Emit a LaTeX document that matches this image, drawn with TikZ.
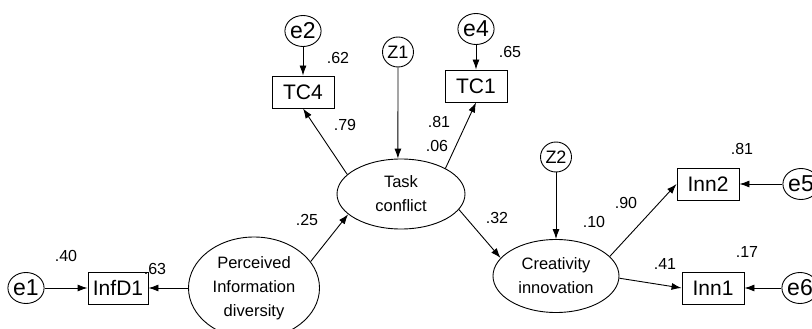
\documentclass[tikz,border=0pt]{standalone}
\usepackage{fontspec}
\setmainfont{Liberation Sans}
\usetikzlibrary{shapes.geometric,arrows.meta}
\begin{document}
\begin{tikzpicture}[x=1pt,y=-1pt,
  latent/.style={draw, ellipse, line width=0.9pt, minimum width=128pt, minimum height=70pt,
    inner sep=0pt, align=center, font=\fontsize{16.5}{24}\selectfont},
  observed/.style={draw, rectangle, line width=0.9pt, minimum width=62pt, minimum height=32pt,
    inner sep=0pt, font=\fontsize{21}{24}\selectfont},
  errterm/.style={draw, ellipse, line width=0.9pt, minimum width=34pt, minimum height=31pt,
    inner sep=0pt, font=\fontsize{23}{24}\selectfont},
  disturb/.style={draw, ellipse, line width=0.9pt, minimum width=31pt, minimum height=30pt,
    inner sep=0pt, font=\fontsize{18}{20}\selectfont},
  coef/.style={inner sep=0pt, font=\fontsize{16}{18}\selectfont},
  link/.style={line width=0.9pt, -{Latex[length=10pt,width=7pt]}},
]
\useasboundingbox (0,0) rectangle (812,329);

% latent constructs
\node[latent, minimum width=131pt, minimum height=102pt] (PID) at (254,288) {Perceived\\Information\\diversity};
\node[latent] (TaskC) at (401,194) {Task\\conflict};
\node[latent, minimum width=126pt, minimum height=73pt] (CrInn) at (556,276) {Creativity\\innovation};

% indicators
\node[observed, minimum width=60pt] (InfD1) at (118,288) {InfD1};
\node[observed] (TC4) at (303,92) {TC4};
\node[observed] (TC1) at (476,86) {TC1};
\node[observed] (Inn2) at (708,184) {Inn2};
\node[observed] (Inn1) at (713,288) {Inn1};

% error terms and disturbances
\node[errterm] (e1) at (26,288) {e1};
\node[errterm] (e2) at (303,31) {e2};
\node[errterm] (e4) at (476,29) {e4};
\node[errterm] (e5) at (801,184) {e5};
\node[errterm] (e6) at (800,288) {e6};
\node[disturb] (Z1) at (398,52) {Z1};
\node[disturb] (Z2) at (556,157) {Z2};

% paths
\draw[link] (e1) -- (InfD1);
\draw[link] (PID.west) -- (InfD1.east);
\draw[link] (PID.25) -- (TaskC.201);
\draw[link] (TaskC.160) -- (TC4.south);
\draw[link] (TaskC.30) -- (TC1.south);
\draw[link] (e2) -- (TC4);
\draw[link] (e4) -- (TC1);
\draw[link] (Z1) -- (TaskC.95);
\draw[link] (TaskC.345) -- (CrInn.162);
\draw[link] (Z2) -- (CrInn.north);
\draw[link] (CrInn.20) -- (Inn2.west);
\draw[link] (CrInn.358) -- (Inn1.west);
\draw[link] (e5) -- (Inn2);
\draw[link] (e6) -- (Inn1);

% estimates
\node[coef] (c40) at (66,256) {.40};
\node[coef] (c63) at (155,269) {.63};
\node[coef] (c25) at (307,220) {.25};
\node[coef] (c62) at (338,58) {.62};
\node[coef] (c79) at (345,125) {.79};
\node[coef] (c81a) at (439,122) {.81};
\node[coef] (c06) at (437,146) {.06};
\node[coef] (c65) at (510,52) {.65};
\node[coef] (c32) at (497,218) {.32};
\node[coef] (c10) at (594,222) {.10};
\node[coef] (c90) at (626,203) {.90};
\node[coef] (c81b) at (742,149) {.81};
\node[coef] (c17) at (747,252) {.17};
\node[coef] (c41) at (665,264) {.41};
\end{tikzpicture}
\end{document}
